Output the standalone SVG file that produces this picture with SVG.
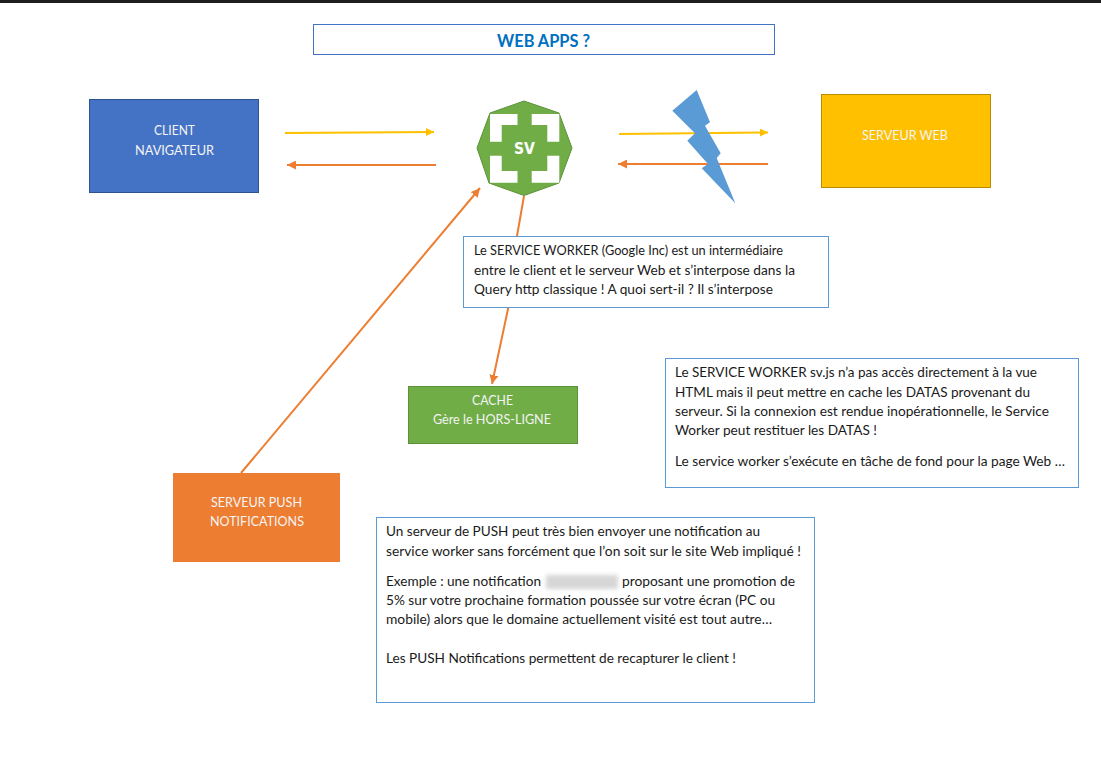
<svg xmlns="http://www.w3.org/2000/svg" width="1101" height="780" viewBox="0 0 1101 780">
<style>
text{font-family:"Lato","Carlito","Open Sans",sans-serif;font-size:13.500px;fill:#1a1a1a}
.w{fill:#f4f4f4;text-anchor:middle;font-size:13.200px}
.box{fill:#fff;stroke:#5b9bd5;stroke-width:1}
.y{stroke:#ffc000;stroke-width:2;fill:none}
.o{stroke:#ed7d31;stroke-width:2;fill:none}
</style>
<defs>
<marker id="ay" markerWidth="8" markerHeight="8" refX="6" refY="3" orient="auto" markerUnits="userSpaceOnUse" viewBox="0 0 6 6"><path d="M0,0L6,3L0,6z" fill="#ffc000"/></marker>
<marker id="ao" markerWidth="9" markerHeight="9" refX="6" refY="3" orient="auto" markerUnits="userSpaceOnUse" viewBox="0 0 6 6"><path d="M0,0L6,3L0,6z" fill="#ed7d31"/></marker>
<filter id="bl" x="-20%" y="-50%" width="140%" height="200%"><feGaussianBlur stdDeviation="2"/></filter>
</defs>
<rect width="1101" height="780" fill="#fff"/>
<rect width="1101" height="3" fill="#1e1e1e"/>
<g id="title"><rect class="box" x="313.500" y="24.500" width="461" height="30" style="stroke:#4472c4"/><text x="543.500" y="47" text-anchor="middle" textLength="93" lengthAdjust="spacingAndGlyphs" style="font-size:16.500px;font-weight:700;fill:#0070c0">WEB APPS ?</text></g>
<g id="connectors">
<path class="y" d="M285,133L434,132" marker-end="url(#ay)"/>
<path class="o" d="M436,165L287,165" marker-end="url(#ao)"/>
<path class="y" d="M619,134L768,132.500" marker-end="url(#ay)"/>
<path class="o" d="M768,164L618,164" marker-end="url(#ao)"/>
<path class="o" d="M241,473L480,188" marker-end="url(#ao)"/>
<path class="o" d="M524,196L517,236L508,309L492,384" marker-end="url(#ao)"/>
</g>
<g id="client"><rect x="89.500" y="99.500" width="169" height="93" fill="#4472c4" stroke="#2f528f"/><text class="w" x="174.500" y="135" textLength="41" lengthAdjust="spacingAndGlyphs">CLIENT</text><text class="w" x="174.500" y="155" textLength="79" lengthAdjust="spacingAndGlyphs">NAVIGATEUR</text></g>
<g id="sv">
<path d="M524,101L559,113L572,148L559,183L524,195.500L489,183L477,148L490,113z" fill="#70ad47" stroke="#5b9238"/>
<path d="M490,114H517.500V125H501.700V141.700H490zM559.300,114H531.700V125H547.300V141.700H559.300zM490,182.700H517.500V171H501.700V155.700H490zM559.300,182.700H531.700V171H547.300V155.700H559.300z" fill="#fff"/>
<text x="524.500" y="154" text-anchor="middle" textLength="21" lengthAdjust="spacingAndGlyphs" style="font-family:'DejaVu Sans',sans-serif;font-size:15px;font-weight:700;fill:#fff">SV</text>
</g>
<g id="bolt"><path d="M696.700,90L710,122.300L705,125.700L720.700,153.300L716.700,158L735.300,203.300L701.700,168.300L708,164L687.300,140.700L695,133.300L672.300,110.700z" fill="#5b9bd5"/></g>
<g id="serveur-web"><rect x="821.500" y="94.500" width="169" height="93" fill="#ffc000" stroke="#bc8c00"/><text class="w" x="905" y="140" textLength="86" lengthAdjust="spacingAndGlyphs">SERVEUR WEB</text></g>
<g id="note-sw"><rect class="box" x="463.500" y="236.500" width="365" height="71"/>
<text x="474" y="255" textLength="309" lengthAdjust="spacingAndGlyphs">Le SERVICE WORKER (Google Inc) est un intermédiaire</text>
<text x="474" y="275" textLength="321" lengthAdjust="spacingAndGlyphs">entre le client et le serveur Web et s’interpose dans la</text>
<text x="474" y="294" textLength="299" lengthAdjust="spacingAndGlyphs">Query http classique ! A quoi sert-il ? Il s’interpose</text></g>
<g id="cache"><rect x="408.500" y="386.500" width="169" height="57" fill="#70ad47" stroke="#5b9238"/><text class="w" x="492.500" y="405" textLength="41" lengthAdjust="spacingAndGlyphs">CACHE</text><text class="w" x="492" y="424" textLength="118" lengthAdjust="spacingAndGlyphs">Gère le HORS-LIGNE</text></g>
<g id="note-vue"><rect class="box" x="665.500" y="358.500" width="413" height="129"/>
<text x="675" y="377" textLength="362" lengthAdjust="spacingAndGlyphs">Le SERVICE WORKER sv.js n’a pas accès directement à la vue</text>
<text x="675" y="397" textLength="355" lengthAdjust="spacingAndGlyphs">HTML mais il peut mettre en cache les DATAS provenant du</text>
<text x="675" y="416" textLength="374" lengthAdjust="spacingAndGlyphs">serveur. Si la connexion est rendue inopérationnelle, le Service</text>
<text x="675" y="435" textLength="202" lengthAdjust="spacingAndGlyphs">Worker peut restituer les DATAS !</text>
<text x="675" y="466" textLength="390" lengthAdjust="spacingAndGlyphs">Le service worker s’exécute en tâche de fond pour la page Web …</text></g>
<g id="push"><rect x="173" y="473" width="167" height="89" fill="#ed7d31"/><text class="w" x="256.500" y="507" textLength="91" lengthAdjust="spacingAndGlyphs">SERVEUR PUSH</text><text class="w" x="257" y="526" textLength="94" lengthAdjust="spacingAndGlyphs">NOTIFICATIONS</text></g>
<g id="note-push"><rect class="box" x="376.500" y="517.500" width="438" height="185"/>
<text x="386" y="536" textLength="374" lengthAdjust="spacingAndGlyphs">Un serveur de PUSH peut très bien envoyer une notification au</text>
<text x="386" y="556" textLength="415" lengthAdjust="spacingAndGlyphs">service worker sans forcément que l’on soit sur le site Web impliqué !</text>
<text x="386" y="586" textLength="155" lengthAdjust="spacingAndGlyphs">Exemple : une notification</text>
<rect x="546" y="575" width="72" height="14" fill="#d6d6d6" filter="url(#bl)"/>
<text x="622" y="586" textLength="173" lengthAdjust="spacingAndGlyphs">proposant une promotion de</text>
<text x="386" y="605" textLength="389" lengthAdjust="spacingAndGlyphs">5% sur votre prochaine formation poussée sur votre écran (PC ou</text>
<text x="386" y="624" textLength="386" lengthAdjust="spacingAndGlyphs">mobile) alors que le domaine actuellement visité est tout autre…</text>
<text x="386" y="663" textLength="350" lengthAdjust="spacingAndGlyphs">Les PUSH Notifications permettent de recapturer le client !</text></g>
</svg>
